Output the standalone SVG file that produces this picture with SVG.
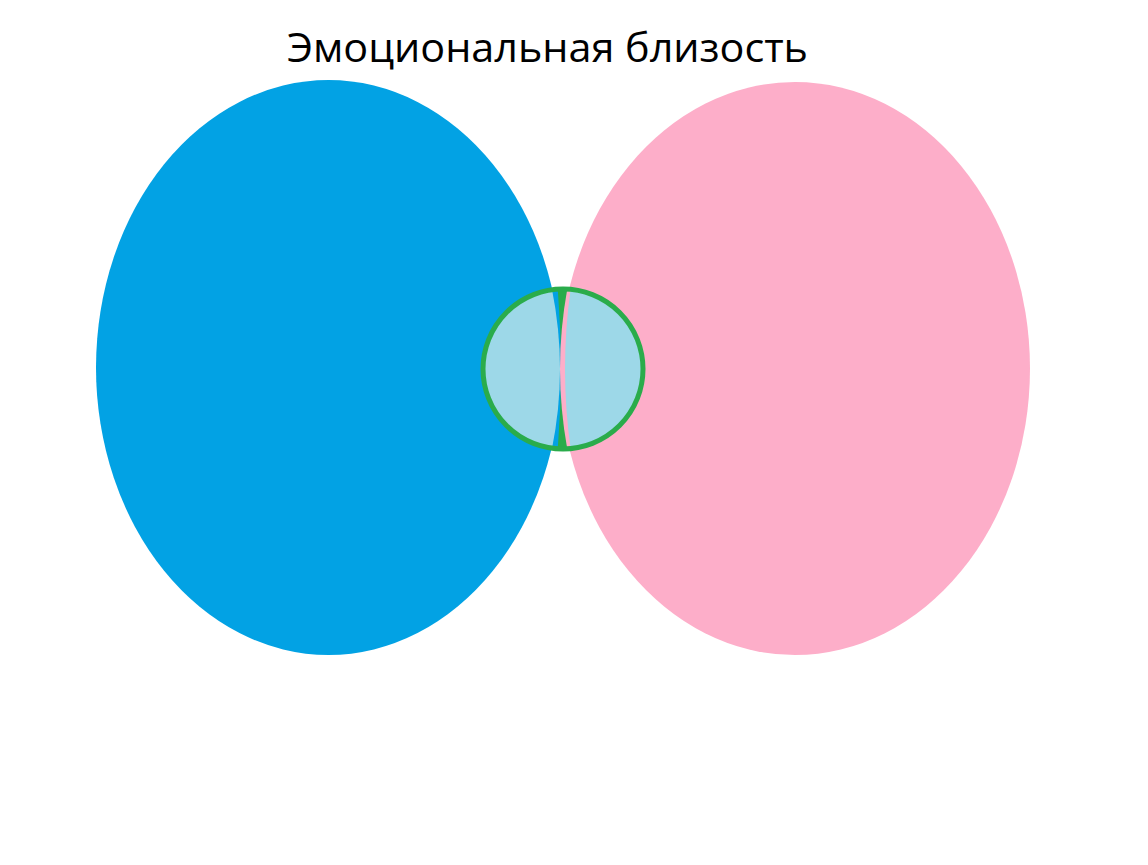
<svg xmlns="http://www.w3.org/2000/svg" width="1148" height="865" viewBox="0 0 1148 865">
  <style>
    .title { font-family: "Open Sans", "Noto Sans", "Liberation Sans", sans-serif; font-size: 40px; fill: #000; }
    .blue { fill: #02a2e4; }
    .pink { fill: #fdaec9; }
    .light { fill: #9dd8e8; }
    .green { fill: #2aac4b; }
  </style>
  <defs>
    <clipPath id="inCircle">
      <circle cx="563" cy="369" r="80"/>
    </clipPath>
  </defs>
  <rect width="1148" height="865" fill="#ffffff"/>
  <text class="title" x="287" y="62" textLength="521" lengthAdjust="spacingAndGlyphs">Эмоциональная близость</text>
  <g id="blue-ellipse">
    <ellipse class="blue" cx="328.5" cy="367.5" rx="232.5" ry="287.5"/>
  </g>
  <g id="pink-ellipse">
    <ellipse class="pink" cx="795" cy="368.5" rx="235" ry="286.5"/>
  </g>
  <g id="intersection">
    <g clip-path="url(#inCircle)">
      <circle class="green" cx="563" cy="369" r="82"/>
      <path class="blue" d="M 470,280 L 557,280 Q 565,369 557,458 L 470,458 Z"/>
      <path class="pink" d="M 660,280 L 569,280 Q 551,369 569,458 L 660,458 Z"/>
      <path class="light" d="M 470,280 L 550,280 Q 570,369 550,458 L 470,458 Z"/>
      <path class="light" d="M 660,280 L 572,280 Q 558,369 572,458 L 660,458 Z"/>
    </g>
    <circle cx="563" cy="369" r="80" fill="none" stroke="#2aac4b" stroke-width="5"/>
  </g>
  <g id="connectors"/>
</svg>
